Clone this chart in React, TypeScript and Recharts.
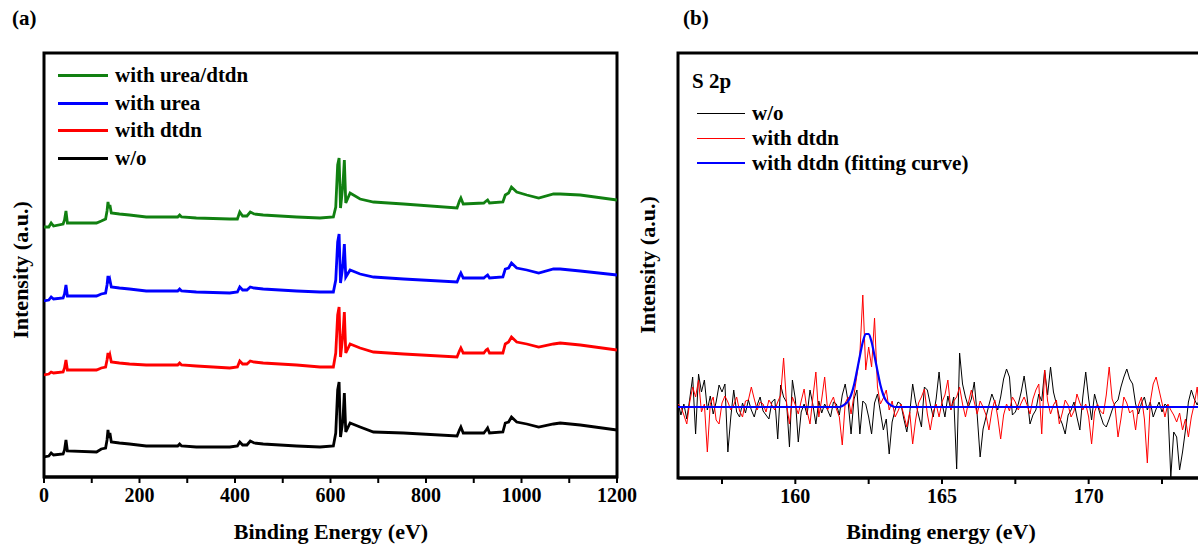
import React from 'react';
import { LineChart, Line, XAxis, YAxis, ReferenceArea } from 'recharts';

// survey spectra (a), intensity in a.u.
const surveyEnergy = [0, 10, 15, 20, 40, 43, 46, 49, 110, 120, 129, 132, 134, 136, 138, 141, 158, 179, 214, 280, 284, 288, 319, 389, 405, 410, 416, 425, 432, 440, 459, 529, 578, 606, 611, 615, 618, 621, 626, 629, 632, 641, 662, 690, 753, 865, 870, 873, 878, 921, 926, 929, 933, 961, 966, 973, 979, 990, 1011, 1036, 1067, 1081, 1123, 1200];
const surveyWo = [20, 21, 24, 22, 23, 27, 37, 26, 25, 28, 29, 37, 47, 39, 44, 35, 34, 33, 31, 31, 33, 31, 30, 30, 31, 35, 32, 32, 36, 34, 33, 31, 30, 31, 44, 87, 95, 40, 57, 84, 45, 54, 50, 45, 44, 41, 47, 50, 44, 44, 47, 49, 44, 45, 54, 55, 60, 55, 53, 50, 53, 54, 52, 47];
const surveyDtdn = [102, 103, 105, 104, 105, 109, 117, 107, 107, 109, 110, 117, 124, 119, 122, 115, 114, 113, 112, 112, 114, 112, 111, 109, 110, 116, 113, 113, 116, 115, 114, 112, 110, 110, 124, 162, 170, 120, 142, 165, 124, 133, 129, 125, 123, 120, 126, 129, 124, 124, 127, 128, 124, 124, 133, 135, 140, 135, 133, 130, 133, 134, 132, 127];
const surveyUrea = [176, 177, 180, 178, 179, 183, 192, 181, 181, 183, 184, 192, 201, 194, 197, 190, 189, 188, 186, 186, 188, 186, 185, 184, 185, 190, 187, 187, 190, 189, 188, 186, 185, 185, 197, 235, 243, 194, 212, 233, 200, 207, 203, 200, 198, 195, 201, 204, 199, 199, 201, 202, 199, 200, 208, 209, 214, 209, 207, 204, 208, 208, 206, 202];
const surveyUreaDtdn = [250, 250, 254, 251, 253, 257, 266, 254, 254, 256, 258, 266, 275, 269, 272, 264, 263, 262, 260, 260, 262, 260, 259, 258, 258, 265, 261, 261, 265, 263, 262, 260, 259, 260, 270, 312, 319, 269, 292, 317, 274, 284, 278, 275, 273, 269, 276, 279, 273, 274, 276, 277, 274, 275, 282, 284, 290, 285, 282, 279, 283, 283, 282, 277];
const surveyTicks = [0, 100, 200, 300, 400, 500, 600, 700, 800, 900, 1000, 1100, 1200];

// S 2p region (b), sampled every 0.1 eV from 156 eV
const s2pStart = 156;
const s2pStep = 0.1;
const s2pWo = [
  5, -8, 3, -12, 8, 30, -27, 33, 15, 27,
  -3, 11, -7, 5, 22, 15, 23, -45, -10, 17,
  -5, -10, 4, -6, 7, -3, -10, 2, 10, -4,
  -8, -12, 5, 8, -32, 22, 10, 5, -40, 27,
  8, -35, -5, 3, -8, 17, 2, -17, 6, -6,
  3, -3, -10, 5, 3, -8, 12, 23, 5, -27,
  8, 17, -27, 6, 3, -10, -27, 4, 13, -5,
  -23, -12, -47, -15, -3, 5, 3, -12, -25, -6,
  23, 5, -8, -20, 20, 17, 3, -10, 8, 35,
  4, -10, 11, -3, 10, -62, 54, 23, 10, 0,
  8, 25, -8, -50, -22, -10, 2, 13, 5, -3,
  10, 28, 38, 30, -8, -5, 3, 15, 31, 10,
  -17, -8, -3, 13, 6, 37, 12, 40, 15, 3,
  -10, -17, -27, -8, -3, 5, -10, -23, 10, 35,
  8, -13, 13, 2, -8, -17, -20, -12, -3, 4,
  7, 20, 30, 38, 28, 23, 3, -7, 4, 10,
  -3, 5, -10, -2, 5, -5, 3, 0, -70, -25,
  -30, -63, -45, -23, 5, 17, 8, 2, 10, -5,
  6,
];
const s2pDtdn = [
  3, 0, -8, -17, 5, 20, 10, 27, -5, 3,
  -45, 3, 10, -13, -17, 4, 11, 5, -3, 2,
  10, -4, -10, 6, 7, 20, 8, -3, 5, 3,
  -5, 7, 2, -3, 5, 12, 49, 3, -17, 10,
  2, -7, 6, 18, -4, -17, 10, 35, -10, 8,
  30, -3, 4, 10, -2, -10, -38, 4, 10, -7,
  12, 32, 53, 112, 37, 60, 40, 89, 20, 3,
  9, 17, -3, 6, -10, -4, 3, -8, -20, -5,
  -37, -13, 4, 10, 18, -7, -23, -5, 3, -10,
  5, 12, 27, -3, 6, 10, 20, 3, -10, 4,
  17, 5, -7, 6, 0, -8, -23, -4, 7, -10,
  -32, -8, 3, -4, 10, 5, -3, 4, 10, 2,
  -7, 8, 17, 23, -27, 37, 6, -7, 2, 7,
  -17, -6, 7, 2, -10, -4, 13, 4, -3, 3,
  -10, -37, -5, 3, -4, -7, 12, 40, 8, 0,
  -30, -12, 10, 4, -6, -3, -23, 2, 10, -12,
  -56, 5, 23, 30, 17, 4, -10, 3, -3, -8,
  -15, -6, -23, -12, -30, -10, 3, 20, -15, -31,
  -10,
];
const fitEnergy = [156, 161.5, 161.6, 161.7, 161.8, 161.9, 162.0, 162.1, 162.2, 162.3, 162.4, 162.5, 162.6, 162.7, 162.8, 162.9, 163.0, 163.1, 163.2, 163.3, 163.4, 174];
const fitDtdn = [0, 0, 1, 3, 6, 12, 22, 36, 51, 65, 73, 73, 65, 51, 36, 22, 12, 6, 3, 1, 0, 0];
const s2pTicks = [157.5, 160, 162.5, 165, 167.5, 170, 172.5];

const surveyData = surveyEnergy.map((e, i) => ({
  e,
  wo: surveyWo[i],
  dtdn: surveyDtdn[i],
  urea: surveyUrea[i],
  both: surveyUreaDtdn[i],
}));
const s2pData = s2pWo.map((v, i) => ({
  e: Math.round((s2pStart + i * s2pStep) * 10) / 10,
  wo: v,
  dtdn: s2pDtdn[i],
}));
const fitData = fitEnergy.map((e, i) => ({ e, fit: fitDtdn[i] }));

const serif = '"Liberation Serif", "Times New Roman", serif';
const tickStyle = { fill: '#000', fontSize: 20, fontWeight: 'bold', fontFamily: serif };

type CaptionProps = { x: number; y: number; size?: number; vertical?: boolean; center?: boolean; children: React.ReactNode };
const Caption: React.FC<CaptionProps> = ({ x, y, size = 22, vertical, center, children }) => (
  <div
    style={{
      position: 'absolute',
      left: x,
      top: y,
      fontFamily: serif,
      fontWeight: 'bold',
      fontSize: size,
      lineHeight: 1,
      whiteSpace: 'nowrap',
      color: '#000',
      transform: vertical
        ? 'translate(-50%, -50%) rotate(-90deg)'
        : center
        ? 'translate(-50%, -50%)'
        : 'translateY(-50%)',
    }}
  >
    {children}
  </div>
);

const LegendRow: React.FC<{ x: number; y: number; len: number; color: string; thick: number; label: string }> = ({ x, y, len, color, thick, label }) => (
  <>
    <div style={{ position: 'absolute', left: x, top: y - thick / 2, width: len, height: thick, background: color }} />
    <Caption x={x + len + 7} y={y} size={21}>{label}</Caption>
  </>
);

const App: React.FC = () => (
  <div style={{ position: 'absolute', left: 0, top: 0, width: 1198, height: 549, overflow: 'hidden', background: '#fff' }}>
    <div style={{ position: 'absolute', left: 0, top: 0 }}>
      <LineChart width={640} height={549} data={surveyData} margin={{ top: 53, right: 23, bottom: 42, left: 44 }}>
        <XAxis
          dataKey="e"
          type="number"
          domain={[0, 1200]}
          ticks={surveyTicks}
          interval={0}
          allowDataOverflow
          tickFormatter={(v: number) => (v % 200 === 0 ? String(v) : '')}
          tick={tickStyle}
          tickSize={6}
          tickMargin={5}
          tickLine={{ stroke: '#000', strokeWidth: 2 }}
          axisLine={{ stroke: '#000', strokeWidth: 3 }}
          height={30}
        />
        <YAxis hide type="number" domain={[0, 424]} allowDataOverflow />
        <ReferenceArea x1={0} x2={1200} y1={0} y2={424} fill="none" stroke="#000" strokeWidth={3} />
        <Line dataKey="wo" stroke="#000000" strokeWidth={2.8} dot={false} type="linear" isAnimationActive={false} />
        <Line dataKey="dtdn" stroke="#ff0000" strokeWidth={2.8} dot={false} type="linear" isAnimationActive={false} />
        <Line dataKey="urea" stroke="#0000ff" strokeWidth={2.8} dot={false} type="linear" isAnimationActive={false} />
        <Line dataKey="both" stroke="#118011" strokeWidth={2.8} dot={false} type="linear" isAnimationActive={false} />
      </LineChart>
    </div>

    <div style={{ position: 'absolute', left: 640, top: 0 }}>
      <LineChart width={580} height={549} data={s2pData} margin={{ top: 53, right: 14, bottom: 41, left: 38 }}>
        <XAxis
          dataKey="e"
          type="number"
          domain={[156, 174]}
          ticks={s2pTicks}
          interval={0}
          allowDataOverflow
          tickFormatter={(v: number) => (v % 5 === 0 ? String(v) : '')}
          tick={tickStyle}
          tickSize={6}
          tickMargin={5}
          tickLine={{ stroke: '#000', strokeWidth: 2 }}
          axisLine={{ stroke: '#000', strokeWidth: 3 }}
          height={30}
        />
        <YAxis hide type="number" domain={[-71, 354]} allowDataOverflow />
        <ReferenceArea x1={156} x2={174} y1={-71} y2={354} fill="none" stroke="#000" strokeWidth={3} />
        <Line dataKey="wo" stroke="#000000" strokeWidth={1} dot={false} type="linear" isAnimationActive={false} />
        <Line dataKey="dtdn" stroke="#ff0000" strokeWidth={1} dot={false} type="linear" isAnimationActive={false} />
        <Line data={fitData} dataKey="fit" stroke="#0000ff" strokeWidth={2.2} dot={false} type="monotone" isAnimationActive={false} />
      </LineChart>
    </div>

    <Caption x={12} y={18} size={21}>(a)</Caption>
    <Caption x={21} y={270} vertical>Intensity (a.u.)</Caption>
    <Caption x={331} y={532} center>Binding Energy (eV)</Caption>
    <LegendRow x={58} y={75} len={50} color="#118011" thick={3} label="with urea/dtdn" />
    <LegendRow x={58} y={103} len={50} color="#0000ff" thick={3} label="with urea" />
    <LegendRow x={58} y={130} len={50} color="#ff0000" thick={3} label="with dtdn" />
    <LegendRow x={58} y={158} len={50} color="#000000" thick={3} label="w/o" />

    <Caption x={683} y={18} size={21}>(b)</Caption>
    <Caption x={648} y={265} vertical>Intensity (a.u.)</Caption>
    <Caption x={941} y={532} center>Binding energy (eV)</Caption>
    <Caption x={692} y={81} size={21}>S 2p</Caption>
    <LegendRow x={697} y={113} len={48} color="#000000" thick={1} label="w/o" />
    <LegendRow x={697} y={138} len={48} color="#ff0000" thick={1} label="with dtdn" />
    <LegendRow x={697} y={163} len={48} color="#0000ff" thick={2} label="with dtdn (fitting curve)" />
  </div>
);

export default App;
